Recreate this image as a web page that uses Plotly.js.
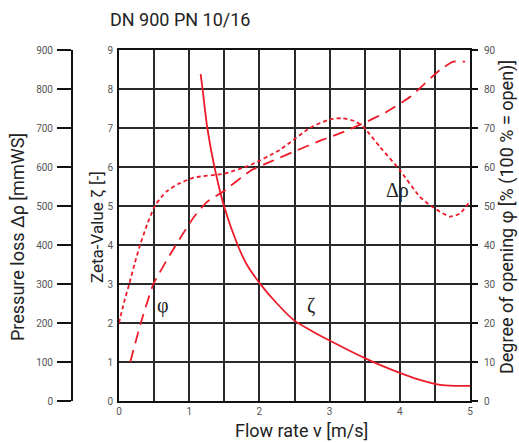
<!DOCTYPE html>
<html>
<head>
<meta charset="utf-8">
<script src="https://cdn.plot.ly/plotly-3.0.1.min.js"></script>
<style>html,body{margin:0;padding:0;background:#fff}#chart{width:519px;height:442px}</style>
</head>
<body>
<div id="chart"></div>
<script>
// Zeta value (solid)
const zetaV = [1.163, 1.19, 1.258, 1.36, 1.495, 1.69, 1.82, 2.0, 2.25, 2.5, 2.75, 3.0, 3.25, 3.5, 3.75, 4.0, 4.25, 4.5, 4.65, 4.8, 5.0];
const zetaY = [8.38, 8.0, 7.0, 6.0, 5.0, 4.0, 3.5, 3.03, 2.5, 2.06, 1.79, 1.55, 1.32, 1.1, 0.9, 0.72, 0.56, 0.44, 0.4, 0.39, 0.39];
// Pressure loss Δρ in mmWS (short dash)
const dpV = [0, 0.07, 0.146, 0.22, 0.30, 0.4, 0.51, 0.6, 0.69, 0.85, 1.07, 1.5, 1.87, 2.29, 2.72, 3.0, 3.18, 3.35, 3.48, 3.72, 4.0, 4.29, 4.47, 4.71, 4.85, 5.0];
const dpY = [200, 252, 300, 350, 400, 452, 500, 522, 539, 557, 573, 583, 605, 644, 700, 722, 725, 718, 703, 651, 592, 523, 497, 473, 480, 512];
// Degree of opening φ in % (long dash)
const phiV = [0.16, 0.31, 0.49, 0.81, 1.06, 1.25, 1.49, 1.87, 2.15, 2.5, 2.9, 3.2, 3.48, 3.8, 4.15, 4.57, 4.76, 4.93];
const phiY = [10, 20, 30, 40, 47, 51, 53.8, 59, 61.3, 64, 67, 69, 71.2, 74, 78, 84.9, 87, 87];

const xTicks = [0, 0.5, 1, 1.5, 2, 2.5, 3, 3.5, 4, 4.5, 5];
const xTickText = ['0', '', '1', '', '2', '', '3', '', '4', '', '5'];
const zetaTicks = [0, 1, 2, 3, 4, 5, 6, 7, 8, 9];
const dpTicks = [0, 100, 200, 300, 400, 500, 600, 700, 800, 900];
const phiTicks = [0, 10, 20, 30, 40, 50, 60, 70, 80, 90];

const red = '#ee1c2a';
const tickFont = {family: 'Roboto, sans-serif', size: 10, color: '#555'};
const titleFont = {family: 'Roboto, sans-serif', size: 18, color: '#222'};
const symFont = {family: 'Liberation Serif, serif', size: 20, color: '#222'};

const L = 10, R = 10, W = 519;
const pw = W - L - R;
const px = p => (p - L) / pw;          // pixel x -> paper x
const py = p => (401 - p) / 351;        // pixel y -> paper y

const traces = [
  {x: zetaV, y: zetaY, type: 'scatter', mode: 'lines', line: {color: red, width: 1.8, shape: 'spline', smoothing: 0.6}, yaxis: 'y', hoverinfo: 'skip'},
  {x: dpV, y: dpY, type: 'scatter', mode: 'lines', line: {color: red, width: 1.8, dash: '4px,3px', shape: 'spline', smoothing: 0.6}, yaxis: 'y2', hoverinfo: 'skip'},
  {x: phiV, y: phiY, type: 'scatter', mode: 'lines', line: {color: red, width: 1.8, dash: '12px,7px', shape: 'spline', smoothing: 0.4}, yaxis: 'y3', hoverinfo: 'skip'}
];

const layout = {
  width: 519, height: 442,
  margin: {l: L, r: R, t: 50, b: 41, pad: 0},
  paper_bgcolor: '#fff', plot_bgcolor: '#fff',
  showlegend: false,
  title: {text: 'DN 900 PN 10/16', x: 110 / W, xanchor: 'left', xref: 'container', y: 1 - 20 / 442, yref: 'container', yanchor: 'middle', font: {family: 'Roboto, sans-serif', size: 18, color: '#222'}},
  xaxis: {
    domain: [px(119), px(470)], range: [0, 5], tickvals: xTicks, ticktext: xTickText,
    showgrid: true, gridcolor: '#2a2a2a', gridwidth: 2,
    showline: true, linecolor: '#111', linewidth: 2, mirror: true,
    ticks: '', tickfont: tickFont, zeroline: false, fixedrange: true
  },
  yaxis: {
    range: [0, 9], tickvals: zetaTicks, ticktext: zetaTicks.map(String),
    showgrid: true, gridcolor: '#2a2a2a', gridwidth: 2,
    showline: true, linecolor: '#111', linewidth: 2, mirror: true,
    ticks: '', tickfont: tickFont, zeroline: false, fixedrange: true, ticklabelstandoff: 2
  },
  yaxis2: {
    overlaying: 'y', anchor: 'free', position: px(72), side: 'left',
    range: [0, 900], tickvals: dpTicks, ticktext: dpTicks.map(String),
    showgrid: false, showline: true, linecolor: '#111', linewidth: 2,
    ticks: 'outside', ticklen: 14, tickwidth: 2, tickcolor: '#111',
    tickfont: tickFont, zeroline: false, fixedrange: true, ticklabelstandoff: 2
  },
  yaxis3: {
    overlaying: 'y', anchor: 'x', side: 'right',
    range: [0, 90], tickvals: phiTicks, ticktext: phiTicks.map(String),
    showgrid: false, showline: false,
    ticks: 'outside', ticklen: 7, tickwidth: 2, tickcolor: '#111',
    tickfont: tickFont, zeroline: false, fixedrange: true, ticklabelstandoff: 4
  },
  annotations: [
    {text: 'Pressure loss Δρ [mmWS]', xref: 'paper', yref: 'paper', x: px(18), y: py(237), textangle: -90, showarrow: false, font: titleFont, xanchor: 'center', yanchor: 'middle'},
    {text: 'Zeta-Value ζ [-]', xref: 'paper', yref: 'paper', x: px(97), y: py(227), textangle: -90, showarrow: false, font: {family: 'Roboto, sans-serif', size: 17, color: '#222'}, xanchor: 'center', yanchor: 'middle'},
    {text: 'Degree of opening φ [% (100 % = open)]', xref: 'paper', yref: 'paper', x: px(507), y: py(217), textangle: -90, showarrow: false, font: titleFont, xanchor: 'center', yanchor: 'middle'},
    {text: 'Flow rate v [m/s]', xref: 'paper', yref: 'paper', x: px(301), y: py(431), showarrow: false, font: titleFont, xanchor: 'center', yanchor: 'middle'},
    {text: 'φ', xref: 'x', yref: 'y', x: 0.63, y: 2.44, showarrow: false, font: symFont},
    {text: 'ζ', xref: 'x', yref: 'y', x: 2.73, y: 2.44, showarrow: false, font: symFont},
    {text: 'Δρ', xref: 'x', yref: 'y', x: 3.97, y: 5.4, showarrow: false, font: symFont}
  ]
};

Plotly.newPlot('chart', traces, layout, {displayModeBar: false, staticPlot: true});
</script>
</body>
</html>
